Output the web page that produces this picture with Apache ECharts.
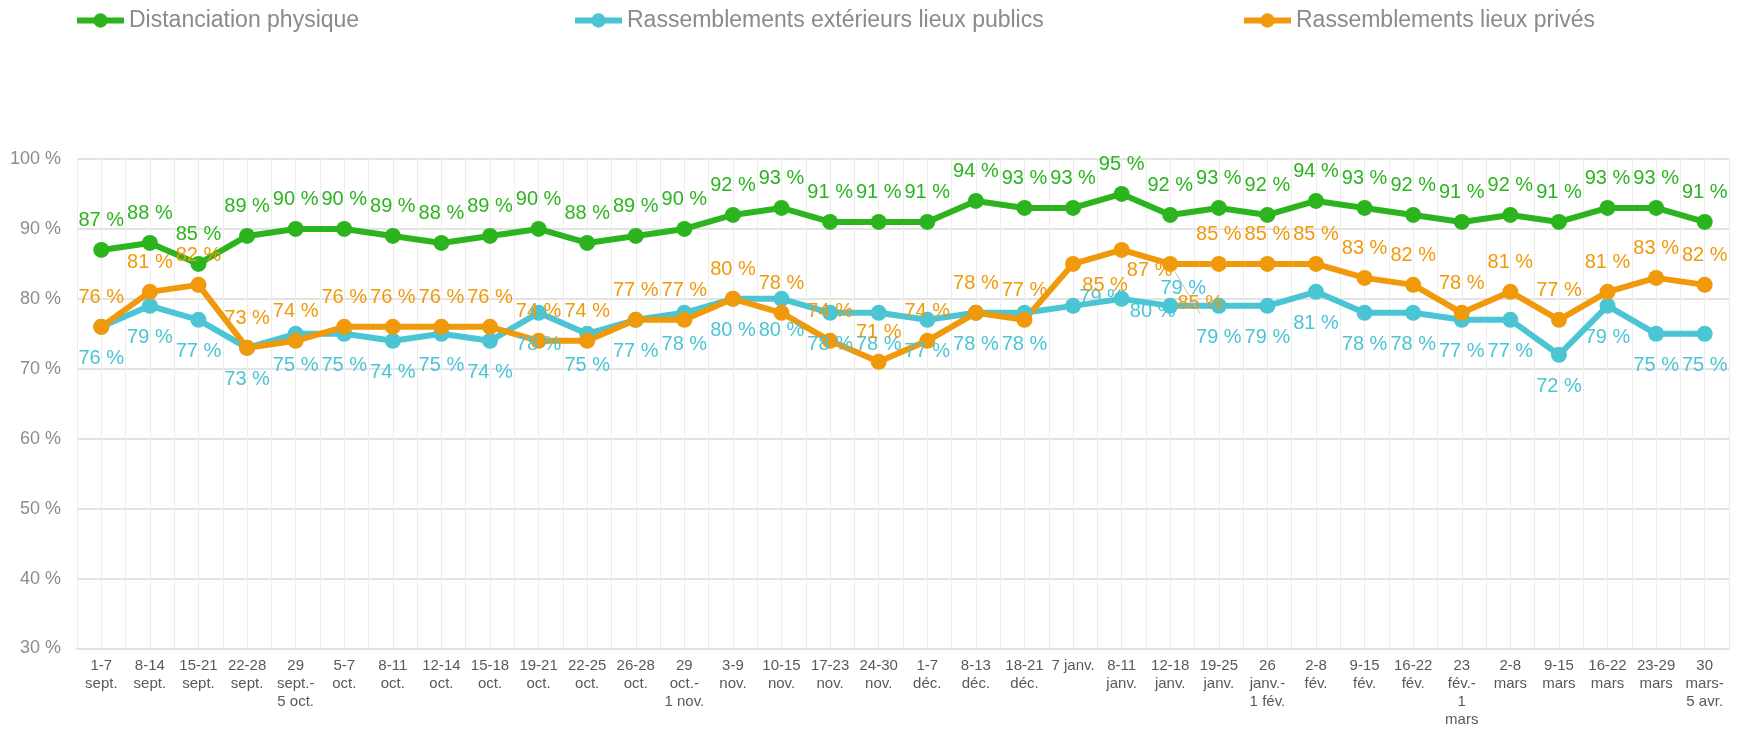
<!DOCTYPE html>
<html>
<head>
<meta charset="utf-8">
<script src="https://cdn.jsdelivr.net/npm/echarts@6/dist/echarts.min.js"></script>
<style>
  html, body { margin: 0; padding: 0; background: #fff; }
  #chart { width: 1747px; height: 731px; }
</style>
</head>
<body>
<div id="chart"></div>
<script>
const categories = [
  '1-7\nsept.', '8-14\nsept.', '15-21\nsept.', '22-28\nsept.', '29\nsept.-\n5 oct.',
  '5-7\noct.', '8-11\noct.', '12-14\noct.', '15-18\noct.', '19-21\noct.', '22-25\noct.',
  '26-28\noct.', '29\noct.-\n1 nov.', '3-9\nnov.', '10-15\nnov.', '17-23\nnov.', '24-30\nnov.',
  '1-7\ndéc.', '8-13\ndéc.', '18-21\ndéc.', '7 janv.', '8-11\njanv.', '12-18\njanv.',
  '19-25\njanv.', '26\njanv.-\n1 fév.', '2-8\nfév.', '9-15\nfév.', '16-22\nfév.',
  '23\nfév.-\n1\nmars', '2-8\nmars', '9-15\nmars', '16-22\nmars', '23-29\nmars', '30\nmars-\n5 avr.'
]

const distanciation = [87, 88, 85, 89, 90, 90, 89, 88, 89, 90, 88, 89, 90, 92, 93, 91, 91, 91, 94, 93, 93, 95, 92, 93, 92, 94, 93, 92, 91, 92, 91, 93, 93, 91]
const exterieurs = [76, 79, 77, 73, 75, 75, 74, 75, 74, 78, 75, 77, 78, 80, 80, 78, 78, 77, 78, 78, 79, 80, 79, 79, 79, 81, 78, 78, 77, 77, 72, 79, 75, 75]
const prives = [76, 81, 82, 73, 74, 76, 76, 76, 76, 74, 74, 77, 77, 80, 78, 74, 71, 74, 78, 77, 85, 87, 85, 85, 85, 85, 83, 82, 78, 81, 77, 81, 83, 82]

const yTicks = { min: 30, max: 100, step: 10 }

// a few labels were moved by hand in the original
const cyanLabelMoves = { 20: [29, -8], 21: [31, 13], 22: [13, -17] }
const orangeLabelMoves = { 20: [32, 22], 21: [28, 21], 22: [30, 40] }

const GREEN = '#2cb41f'
const CYAN = '#4bc4d4'
const ORANGE = '#f0990a'
const FONT = '"Liberation Sans", Arial, sans-serif'

function withMoves(values, moves, guideAt) {
  return values.map((v, i) => {
    if (!moves[i]) return v
    const item = { value: v, label: { position: 'inside', offset: moves[i] } }
    if (i === guideAt) {
      item.labelLine = { show: true, lineStyle: { color: '#bfbfbf', width: 1 } }
    }
    return item
  })
}

function lineSeries(name, color, data, position, distance) {
  return {
    name,
    type: 'line',
    data,
    symbol: 'circle',
    symbolSize: 16,
    showAllSymbol: true,
    lineStyle: { width: 6, color },
    itemStyle: { color },
    label: {
      show: true,
      position,
      distance,
      color,
      fontSize: 20,
      fontFamily: FONT,
      formatter: '{c} %',
    },
  }
}

function legendAt(left, name) {
  return {
    data: [name],
    left,
    top: 4,
    itemWidth: 47,
    itemHeight: 18,
    lineStyle: { width: 6 },
    textStyle: { color: '#8a8a8a', fontSize: 23, fontFamily: FONT },
  }
}

const chart = echarts.init(document.getElementById('chart'))
chart.setOption({
  animation: false,
  backgroundColor: '#fff',
  legend: [
    legendAt(69, 'Distanciation physique'),
    legendAt(567, 'Rassemblements extérieurs lieux publics'),
    legendAt(1236, 'Rassemblements lieux privés'),
  ],
  grid: { left: 77, right: 18, top: 159, bottom: 82.5 },
  xAxis: [
    {
      type: 'category',
      data: categories,
      boundaryGap: true,
      axisLine: { show: true, lineStyle: { color: '#e3e3e3', width: 2 } },
      axisTick: { show: false },
      splitLine: { show: false },
      axisLabel: {
        interval: 0,
        color: '#595959',
        fontSize: 15,
        lineHeight: 18,
        margin: 8,
        fontFamily: FONT,
      },
    },
    {
      // half-category minor gridlines
      type: 'category',
      data: Array.from({ length: categories.length * 2 }, () => ''),
      boundaryGap: true,
      position: 'bottom',
      axisLine: { show: false },
      axisTick: { show: false },
      axisLabel: { show: false },
      splitLine: { show: true, interval: 0, lineStyle: { color: '#ececec', width: 1 } },
    },
  ],
  yAxis: {
    type: 'value',
    min: yTicks.min,
    max: yTicks.max,
    interval: yTicks.step,
    axisLine: { show: false },
    axisTick: { show: false },
    splitLine: { lineStyle: { color: '#e3e3e3', width: 2 } },
    axisLabel: {
      formatter: '{value} %',
      color: '#8c8c8c',
      fontSize: 18,
      margin: 16,
      fontFamily: FONT,
    },
  },
  series: [
    lineSeries('Distanciation physique', GREEN, distanciation, 'top', 11),
    lineSeries('Rassemblements extérieurs lieux publics', CYAN, withMoves(exterieurs, cyanLabelMoves, -1), 'bottom', 14),
    lineSeries('Rassemblements lieux privés', ORANGE, withMoves(prives, orangeLabelMoves, 22), 'top', 11),
  ],
})
</script>
</body>
</html>
